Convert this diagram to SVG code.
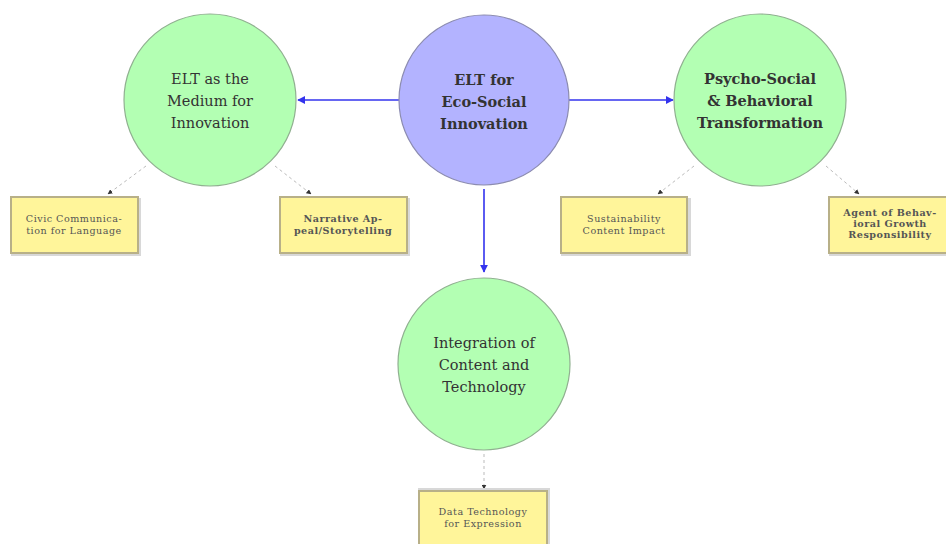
<svg xmlns="http://www.w3.org/2000/svg" width="946" height="544" viewBox="0 0 946 544">
<style>
.c{stroke-width:1.2}
.main{fill:#b3b3ff;stroke:#8c8cb0}
.sub{fill:#b3ffb3;stroke:#90b090}
.ct{font-size:14.5px;fill:#333;text-anchor:middle}
.bt{font-size:9.6px;letter-spacing:0.5px;fill:#555;text-anchor:middle}
.box{fill:#fff59a;stroke:#b8b088;stroke-width:2}
.sh{fill:#d8d8d8}
.blue{stroke:#3333ee;stroke-width:1.6;fill:none}
.dash{stroke:#bbbbbb;stroke-width:1;stroke-dasharray:3,3;fill:none}
</style>
<defs>
<marker id="ab" viewBox="0 0 10 10" refX="9" refY="5" markerWidth="5" markerHeight="5" orient="auto"><path d="M0,0L10,5L0,10z" fill="#3333ee"/></marker>
<marker id="ad" viewBox="0 0 10 10" refX="9" refY="5" markerWidth="5" markerHeight="5" orient="auto"><path d="M0,0L10,5L0,10z" fill="#333"/></marker>
</defs>
<g id="connectors">
<line class="blue" x1="400" y1="100" x2="298" y2="100" marker-end="url(#ab)"/>
<line class="blue" x1="569" y1="100" x2="673" y2="100" marker-end="url(#ab)"/>
<line class="blue" x1="484" y1="189" x2="484" y2="272" marker-end="url(#ab)"/>
<line class="dash" x1="146" y1="166" x2="108" y2="194" marker-end="url(#ad)"/>
<line class="dash" x1="275" y1="166" x2="311" y2="194" marker-end="url(#ad)"/>
<line class="dash" x1="694" y1="166" x2="658" y2="194" marker-end="url(#ad)"/>
<line class="dash" x1="826" y1="166" x2="859" y2="194" marker-end="url(#ad)"/>
<line class="dash" x1="484" y1="454" x2="484" y2="489" marker-end="url(#ad)"/>
</g>
<g font-family="DejaVu Serif, serif">
<g id="center">
<circle class="c main" cx="484" cy="100" r="85"/>
<text class="ct" font-weight="bold" fill="#222"><tspan x="484" y="85">ELT for</tspan><tspan x="484" y="107">Eco-Social</tspan><tspan x="484" y="129">Innovation</tspan></text>
</g>
<g id="medium">
<circle class="c sub" cx="210" cy="100" r="86"/>
<text class="ct"><tspan x="210" y="84">ELT as the</tspan><tspan x="210" y="106">Medium for</tspan><tspan x="210" y="128">Innovation</tspan></text>
</g>
<g id="psycho">
<circle class="c sub" cx="760" cy="100" r="86"/>
<text class="ct" font-weight="bold"><tspan x="760" y="84">Psycho-Social</tspan><tspan x="760" y="106">&amp; Behavioral</tspan><tspan x="760" y="128">Transformation</tspan></text>
</g>
<g id="integration">
<circle class="c sub" cx="484" cy="364" r="86"/>
<text class="ct"><tspan x="484" y="348">Integration of</tspan><tspan x="484" y="370">Content and</tspan><tspan x="484" y="392">Technology</tspan></text>
</g>
<g id="civic">
<rect class="sh" x="11" y="198" width="130" height="58"/>
<rect class="box" x="11" y="197" width="127" height="56"/>
<text class="bt"><tspan x="74" y="222">Civic Communica-</tspan><tspan x="74" y="234">tion for Language</tspan></text>
</g>
<g id="narrative">
<rect class="sh" x="280" y="198" width="130" height="58"/>
<rect class="box" x="280" y="197" width="127" height="56"/>
<text class="bt" font-weight="bold" fill="#333"><tspan x="343" y="222">Narrative Ap-</tspan><tspan x="343" y="234">peal/Storytelling</tspan></text>
</g>
<g id="sustain">
<rect class="sh" x="561" y="198" width="130" height="58"/>
<rect class="box" x="561" y="197" width="126" height="56"/>
<text class="bt"><tspan x="624" y="222">Sustainability</tspan><tspan x="624" y="234">Content Impact</tspan></text>
</g>
<g id="agent">
<rect class="sh" x="829" y="198" width="120" height="58"/>
<rect class="box" x="829" y="197" width="120" height="56"/>
<text class="bt" font-weight="bold" fill="#333"><tspan x="890" y="216">Agent of Behav-</tspan><tspan x="890" y="227">ioral Growth</tspan><tspan x="890" y="238">Responsibility</tspan></text>
</g>
<g id="data">
<rect class="sh" x="418" y="488" width="132" height="58"/>
<rect class="box" x="419" y="491" width="128" height="56"/>
<text class="bt"><tspan x="483" y="515">Data Technology</tspan><tspan x="483" y="527">for Expression</tspan></text>
</g>
</g>
</svg>
